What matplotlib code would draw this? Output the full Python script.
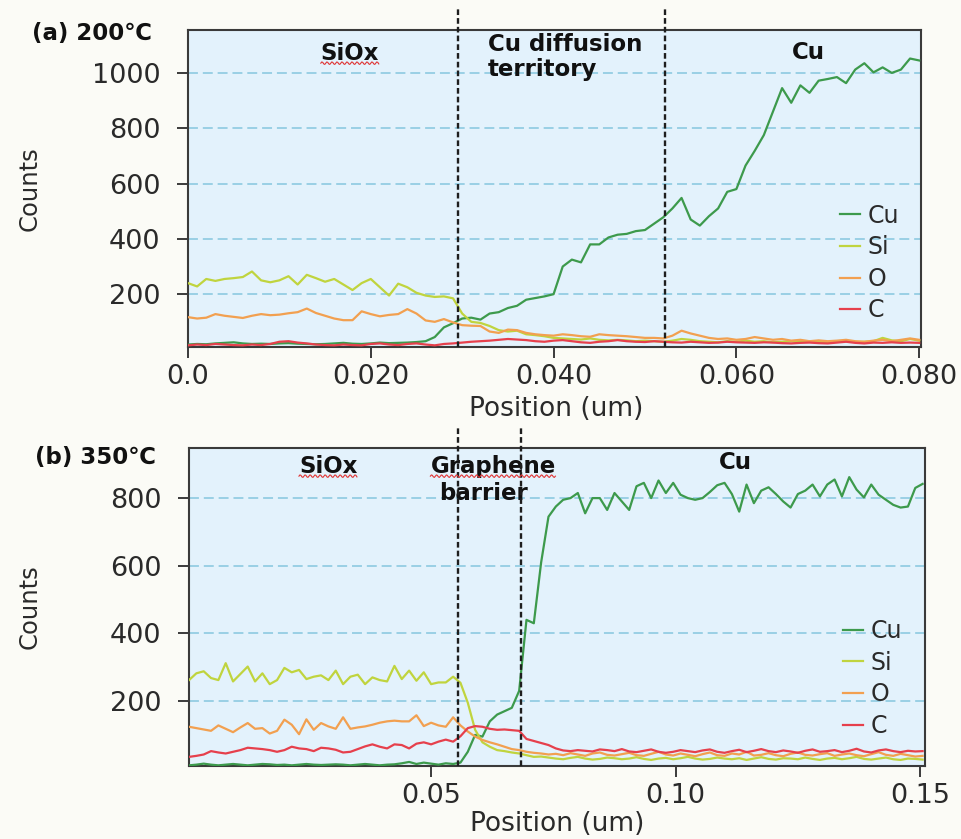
import numpy as np
import matplotlib
matplotlib.use('Agg')
import matplotlib.pyplot as plt
from matplotlib.lines import Line2D

# ---------------------------------------------------------------------------
# (a) 200C line profile  (0.001 um step)
# ---------------------------------------------------------------------------
pos_a = np.round(np.arange(81) * 0.001, 4)
cu_a = [18, 20, 19, 22, 24, 26, 22, 20, 21, 20,
        22, 23, 21, 20, 19, 20, 22, 24, 21, 20,
        22, 25, 23, 24, 25, 27, 30, 45, 80, 95,
        112, 115, 108, 130, 135, 150, 158, 180, 186, 192,
        200, 300, 325, 315, 380, 380, 405, 415, 418, 428,
        432, 455, 478, 510, 548, 470, 448, 482, 510, 570,
        580, 665, 718, 775, 860, 945, 892, 955, 928, 972,
        978, 985, 963, 1012, 1035, 1002, 1020, 1000, 1012, 1052,
        1045]
si_a = [240, 228, 255, 248, 255, 258, 262, 282, 250, 243,
        250, 265, 235, 270, 258, 245, 255, 235, 215, 240,
        255, 225, 195, 238, 225, 205, 195, 190, 192, 185,
        130, 100, 96, 85, 70, 65, 68, 55, 52, 48,
        42, 40, 38, 36, 40, 35, 33, 35, 33, 30,
        32, 30, 28, 32, 38, 35, 30, 28, 26, 30,
        28, 32, 28, 30, 26, 28, 30, 27, 30, 28,
        25, 28, 30, 27, 28, 30, 42, 33, 30, 38,
        32]
o_a = [117, 112, 115, 128, 122, 118, 114, 122, 128, 124,
       126, 131, 135, 148, 132, 122, 112, 106, 106, 138,
       128, 120, 125, 128, 146, 130, 105, 100, 110, 98,
       88, 86, 85, 65, 60, 72, 70, 60, 55, 52,
       50, 55, 52, 48, 46, 55, 52, 50, 48, 45,
       42, 42, 40, 50, 68, 58, 50, 42, 38, 40,
       35, 38, 45, 40, 35, 38, 32, 35, 30, 33,
       30, 32, 35, 30, 28, 32, 35, 30, 35, 40,
       35]
c_a = [15, 18, 16, 20, 18, 16, 15, 18, 16, 20,
       28, 30, 25, 22, 18, 16, 15, 18, 16, 15,
       20, 22, 18, 16, 20, 22, 18, 15, 20, 22,
       25, 28, 30, 32, 35, 38, 36, 34, 30, 28,
       32, 34, 30, 26, 24, 28, 30, 34, 30, 28,
       27, 30, 28, 26, 25, 28, 26, 24, 25, 28,
       26, 25, 24, 26, 25, 23, 22, 24, 25, 23,
       22, 25, 28, 24, 22, 25, 24, 26, 24, 25,
       24]
bounds_a = [0.0295, 0.0522]
xticks_a = [0.0, 0.02, 0.04, 0.06, 0.08]
xtlabels_a = ['0.0', '0.020', '0.040', '0.060', '0.080']
yticks_a = [200, 400, 600, 800, 1000]

# ---------------------------------------------------------------------------
# (b) 350C line profile  (0.0015 um step)
# ---------------------------------------------------------------------------
pos_b = np.round(0.0005 + np.arange(101) * 0.0015, 5)
cu_b = [10, 12, 15, 12, 10, 12, 14, 12, 10, 12,
        14, 13, 11, 12, 10, 12, 14, 12, 11, 12,
        13, 12, 10, 12, 14, 12, 10, 12, 13, 16,
        20, 14, 18, 15, 12, 16, 14, 18, 50, 100,
        95, 140, 160, 170, 180, 230, 440, 430, 610, 745,
        775, 795, 800, 815, 755, 800, 800, 765, 815, 790,
        765, 835, 845, 800, 852, 815, 845, 810, 800, 795,
        800, 818, 838, 845, 812, 760, 840, 785, 822, 832,
        812, 790, 772, 812, 822, 840, 805, 840, 855, 805,
        862, 825, 802, 840, 810, 795, 780, 772, 775, 830,
        842]
si_b = [262, 282, 288, 268, 262, 312, 258, 280, 302, 258,
        282, 250, 262, 298, 285, 292, 265, 272, 276, 262,
        290, 250, 272, 278, 250, 270, 262, 258, 304, 265,
        290, 260, 285, 250, 255, 255, 272, 254, 195, 115,
        78, 65, 55, 52, 48, 45, 40, 35, 36, 33,
        30, 28, 32, 35, 30, 27, 29, 33, 31, 28,
        30, 34, 29, 26, 30, 32, 28, 31, 35, 30,
        27, 29, 33, 30, 28, 31, 26, 30, 34, 29,
        27, 31, 30, 28, 33, 29, 26, 30, 32, 28,
        31, 35, 29, 27, 30, 33, 28, 26, 30, 29,
        27]
o_b = [124, 120, 116, 112, 128, 118, 108, 122, 135, 118,
       120, 104, 112, 145, 130, 102, 146, 115, 135, 125,
       118, 152, 118, 122, 125, 130, 136, 140, 142, 140,
       140, 158, 126, 136, 128, 124, 152, 128, 110, 95,
       85, 78, 72, 65, 58, 55, 50, 47, 45, 42,
       44, 40, 46, 42, 38, 45, 48, 41, 39, 43,
       47, 40, 38, 44, 50, 42, 39, 45, 41, 37,
       43, 48, 40, 38, 45, 42, 50, 39, 41, 46,
       40, 37, 44, 48, 41, 39, 43, 46, 38, 42,
       45, 40, 37, 43, 49, 41, 38, 44, 40, 36,
       38]
c_b = [35, 38, 42, 52, 48, 45, 50, 55, 62, 60,
       58, 55, 50, 55, 65, 60, 58, 52, 62, 60,
       56, 48, 50, 58, 66, 72, 65, 60, 72, 70,
       60, 74, 78, 72, 80, 86, 80, 96, 120, 126,
       124, 118, 115, 116, 114, 112, 88, 82, 76, 70,
       60, 54, 52, 55, 53, 51, 57, 55, 52, 58,
       51, 49, 53, 57, 50, 47, 50, 55, 52, 49,
       54, 57, 50, 47, 52, 56, 49, 53, 58, 52,
       49, 54, 51, 47, 53, 57, 50, 52, 55, 49,
       53, 59, 51, 48, 54, 57, 52, 49, 53, 51,
       52]
bounds_b = [0.0555, 0.0684]
xticks_b = [0.05, 0.10, 0.15]
xtlabels_b = ['0.05', '0.10', '0.15']
yticks_b = [200, 400, 600, 800]

elements = ['Cu', 'Si', 'O', 'C']
colors = {'Cu': '#3d9a4c', 'Si': '#c0d43e', 'O': '#f2a050', 'C': '#e6404c'}
GRID = '#86c6de'
INK = '#2a2a2a'
BOLD = ['DejaVu Sans']

fig = plt.figure(figsize=(9.61, 8.39), dpi=100, facecolor='#fbfbf6')
ax_a = fig.add_axes([0.1956, 0.5864, 0.7628, 0.3778])
ax_b = fig.add_axes([0.1967, 0.0870, 0.7659, 0.3790])


def draw_panel(ax, pos, series, bounds, xticks, xtl, yticks, xlim, ylim, vtop):
    ax.set_facecolor('#e3f2fc')
    for y in yticks:
        ax.axhline(y, color=GRID, lw=1.1, ls=(0, (6.5, 3.2)), zorder=1)
    for el in elements:
        ax.plot(pos, series[el], color=colors[el], lw=1.6, label=el, zorder=3)
    for b in bounds:
        ax.axvline(b, ymin=0, ymax=vtop, color='#1e1e1e', lw=1.7,
                   ls=(0, (2.4, 1.3)), clip_on=False, zorder=4)
    ax.set_xlim(xlim); ax.set_ylim(ylim)
    ax.set_xticks(xticks); ax.set_xticklabels(xtl)
    ax.set_yticks(yticks)
    for s in ax.spines.values():
        s.set_color('#3a3a3a'); s.set_linewidth(1.5)
    ax.tick_params(axis='both', direction='out', length=8, width=1.4,
                   color='#3a3a3a', labelcolor=INK, labelsize=19.5)
    ax.tick_params(axis='y', pad=12)
    ax.tick_params(axis='x', pad=4)
    ax.set_ylabel('Counts', fontsize=17.5, color=INK)
    ax.set_xlabel('Position (um)', fontsize=19, color=INK)
    ax.yaxis.set_label_coords(-0.2, 0.5)


draw_panel(ax_a, pos_a, {'Cu': cu_a, 'Si': si_a, 'O': o_a, 'C': c_a}, bounds_a,
           xticks_a, xtlabels_a, yticks_a, (0, 0.0802), (9, 1155), 1.069)
draw_panel(ax_b, pos_b, {'Cu': cu_b, 'Si': si_b, 'O': o_b, 'C': c_b}, bounds_b,
           xticks_b, xtlabels_b, yticks_b, (0.0005, 0.151), (8, 948), 1.066)
ax_a.xaxis.set_label_coords(0.502, -0.155)
ax_b.xaxis.set_label_coords(0.5, -0.142)

for ax, anchor in [(ax_a, (0.890, 0.452)), (ax_b, (0.889, 0.462))]:
    ax.legend(loc='upper left', bbox_to_anchor=anchor, frameon=False,
              fontsize=17, handlelength=0.85, handletextpad=0.3,
              labelspacing=0.32, borderpad=0, borderaxespad=0,
              labelcolor=INK)

# region annotations
kw = dict(fontsize=16.5, fontweight='bold', family=BOLD, color='#111111')
sq = []
sq.append(ax_a.text(0.221, 0.927, 'SiOx', transform=ax_a.transAxes,
                    ha='center', va='center', **kw))
ax_a.text(0.409, 0.99, 'Cu diffusion\nterritory', transform=ax_a.transAxes,
          ha='left', va='top', linespacing=1.12, **kw)
ax_a.text(0.846, 0.93, 'Cu', transform=ax_a.transAxes, ha='center', va='center', **kw)

sq.append(ax_b.text(0.189, 0.943, 'SiOx', transform=ax_b.transAxes,
                    ha='center', va='center', **kw))
sq.append(ax_b.text(0.413, 0.943, 'Graphene', transform=ax_b.transAxes,
                    ha='center', va='center', **kw))
ax_b.text(0.400, 0.858, 'barrier', transform=ax_b.transAxes,
          ha='center', va='center', **kw)
ax_b.text(0.742, 0.956, 'Cu', transform=ax_b.transAxes, ha='center', va='center', **kw)

fig.text(0.033, 0.9595, '(a) 200\u2103', ha='left', va='center', **kw)
fig.text(0.036, 0.4553, '(b) 350\u2103', ha='left', va='center', **kw)

# red spell-check squiggles under SiOx / Graphene
fig.canvas.draw()
inv = fig.transFigure.inverted()
for t in sq:
    bb = t.get_window_extent()
    xs = np.arange(bb.x0, bb.x1, 1.0)
    ys = bb.y0 + 1.5 + 1.3 * np.sin((xs - bb.x0) * 2 * np.pi / 5.0)
    pts = inv.transform(np.column_stack([xs, ys]))
    fig.add_artist(Line2D(pts[:, 0], pts[:, 1], color='#e03434', lw=0.8,
                          transform=fig.transFigure))

fig.savefig('out.png', dpi=100, facecolor=fig.get_facecolor())
